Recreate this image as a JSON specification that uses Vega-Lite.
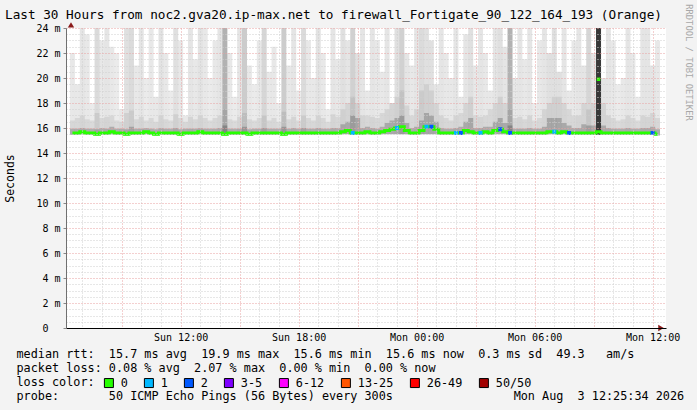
{
 "$schema": "https://vega.github.io/schema/vega-lite/v6.json",
 "width": 600, "height": 300,
 "autosize": {"type": "none"},
 "padding": {"left": 66, "top": 28, "right": 31, "bottom": 82},
 "background": "#f3f3f3",
 "config": {"view": {"stroke": null, "fill": "#ffffff"}, "font": "DejaVu Sans Mono"},
 "title": {"text": "Last 30 Hours from noc2.gva20.ip-max.net to firewall_Fortigate_90_122_164_193 (Orange)", "anchor": "start", "frame": "group", "dx": -61, "dy": 37, "font": "DejaVu Sans Mono", "fontSize": 12.7, "fontWeight": "normal", "color": "#000000", "offset": 9, "baseline": "alphabetic"},
 "data": {"values": [
{"t":"2026-08-02T06:30","m":15.6,"l":15.45,"d":15.95,"k":16.6,"h":22,"o":0.09,"s":"0"},
{"t":"2026-08-02T06:45","m":15.6,"l":15.45,"d":15.95,"k":16.8,"h":19.5,"o":0.09,"s":"0"},
{"t":"2026-08-02T07:00","m":15.7,"l":15.5,"d":16.0,"k":17.0,"h":24,"o":0.1,"s":"0"},
{"t":"2026-08-02T07:15","m":15.6,"l":15.45,"d":15.95,"k":16.7,"h":23.5,"o":0.09,"s":"0"},
{"t":"2026-08-02T07:30","m":15.6,"l":15.45,"d":15.95,"k":16.6,"h":18,"o":0.08,"s":"0"},
{"t":"2026-08-02T07:45","m":15.5,"l":15.4,"d":15.9,"k":17.2,"h":24,"o":0.14,"s":"0"},
{"t":"2026-08-02T08:00","m":15.6,"l":15.45,"d":16.0,"k":16.8,"h":23,"o":0.09,"s":"0"},
{"t":"2026-08-02T08:15","m":15.6,"l":15.45,"d":15.95,"k":16.9,"h":24,"o":0.1,"s":"0"},
{"t":"2026-08-02T08:30","m":15.7,"l":15.5,"d":16.1,"k":17.0,"h":22.5,"o":0.09,"s":"0"},
{"t":"2026-08-02T08:45","m":15.6,"l":15.45,"d":15.95,"k":16.6,"h":22,"o":0.08,"s":"0"},
{"t":"2026-08-02T09:00","m":15.6,"l":15.45,"d":15.95,"k":16.5,"h":17.5,"o":0.09,"s":"0"},
{"t":"2026-08-02T09:15","m":15.5,"l":15.4,"d":15.9,"k":17.2,"h":24,"o":0.12,"s":"0"},
{"t":"2026-08-02T09:30","m":15.6,"l":15.45,"d":16.1,"k":17.4,"h":24,"o":0.14,"s":"0"},
{"t":"2026-08-02T09:45","m":15.6,"l":15.45,"d":15.95,"k":16.7,"h":21,"o":0.09,"s":"0"},
{"t":"2026-08-02T10:00","m":15.6,"l":15.45,"d":15.95,"k":16.9,"h":24,"o":0.1,"s":"0"},
{"t":"2026-08-02T10:15","m":15.7,"l":15.5,"d":16.0,"k":16.6,"h":20,"o":0.08,"s":"0"},
{"t":"2026-08-02T10:30","m":15.6,"l":15.45,"d":15.95,"k":16.8,"h":24,"o":0.09,"s":"0"},
{"t":"2026-08-02T10:45","m":15.5,"l":15.4,"d":15.9,"k":16.5,"h":18.5,"o":0.09,"s":"0"},
{"t":"2026-08-02T11:00","m":15.6,"l":15.45,"d":16.0,"k":17.0,"h":24,"o":0.11,"s":"0"},
{"t":"2026-08-02T11:15","m":15.6,"l":15.45,"d":15.95,"k":16.7,"h":22,"o":0.09,"s":"0"},
{"t":"2026-08-02T11:30","m":15.6,"l":15.45,"d":15.95,"k":16.6,"h":19,"o":0.08,"s":"0"},
{"t":"2026-08-02T11:45","m":15.6,"l":15.45,"d":16.0,"k":17.1,"h":24,"o":0.12,"s":"0"},
{"t":"2026-08-02T12:00","m":15.5,"l":15.4,"d":15.9,"k":16.8,"h":23,"o":0.09,"s":"0"},
{"t":"2026-08-02T12:15","m":15.6,"l":15.45,"d":15.95,"k":16.5,"h":17,"o":0.09,"s":"0"},
{"t":"2026-08-02T12:30","m":15.6,"l":15.45,"d":15.95,"k":16.9,"h":24,"o":0.1,"s":"0"},
{"t":"2026-08-02T12:45","m":15.6,"l":15.45,"d":15.95,"k":16.7,"h":21.5,"o":0.09,"s":"0"},
{"t":"2026-08-02T13:00","m":15.7,"l":15.5,"d":16.0,"k":17.0,"h":24,"o":0.11,"s":"0"},
{"t":"2026-08-02T13:15","m":15.6,"l":15.45,"d":15.95,"k":16.8,"h":24,"o":0.09,"s":"0"},
{"t":"2026-08-02T13:30","m":15.6,"l":15.45,"d":15.95,"k":16.6,"h":20,"o":0.08,"s":"0"},
{"t":"2026-08-02T13:45","m":15.6,"l":15.45,"d":15.95,"k":16.8,"h":23,"o":0.09,"s":"0"},
{"t":"2026-08-02T14:00","m":15.6,"l":15.45,"d":16.0,"k":17.0,"h":24,"o":0.1,"s":"0"},
{"t":"2026-08-02T14:15","m":15.5,"l":15.4,"d":16.2,"k":17.5,"h":24,"o":0.3,"s":"0"},
{"t":"2026-08-02T14:30","m":15.6,"l":15.45,"d":15.95,"k":16.7,"h":22,"o":0.09,"s":"0"},
{"t":"2026-08-02T14:45","m":15.6,"l":15.45,"d":15.95,"k":16.6,"h":18.5,"o":0.08,"s":"0"},
{"t":"2026-08-02T15:00","m":15.6,"l":15.45,"d":15.95,"k":16.9,"h":24,"o":0.1,"s":"0"},
{"t":"2026-08-02T15:15","m":15.6,"l":15.45,"d":16.1,"k":17.2,"h":24,"o":0.2,"s":"0"},
{"t":"2026-08-02T15:30","m":15.5,"l":15.4,"d":15.9,"k":16.7,"h":21,"o":0.09,"s":"0"},
{"t":"2026-08-02T15:45","m":15.6,"l":15.45,"d":15.95,"k":16.6,"h":19.5,"o":0.08,"s":"0"},
{"t":"2026-08-02T16:00","m":15.6,"l":15.45,"d":15.95,"k":16.8,"h":23,"o":0.09,"s":"0"},
{"t":"2026-08-02T16:15","m":15.6,"l":15.45,"d":16.0,"k":17.0,"h":24,"o":0.16,"s":"0"},
{"t":"2026-08-02T16:30","m":15.6,"l":15.45,"d":15.95,"k":16.6,"h":20.5,"o":0.09,"s":"0"},
{"t":"2026-08-02T16:45","m":15.6,"l":15.45,"d":15.95,"k":16.8,"h":22.5,"o":0.09,"s":"0"},
{"t":"2026-08-02T17:00","m":15.6,"l":15.45,"d":15.95,"k":16.5,"h":18,"o":0.08,"s":"0"},
{"t":"2026-08-02T17:15","m":15.5,"l":15.4,"d":16.1,"k":17.3,"h":24,"o":0.2,"s":"0"},
{"t":"2026-08-02T17:30","m":15.6,"l":15.45,"d":15.95,"k":16.7,"h":21,"o":0.09,"s":"0"},
{"t":"2026-08-02T17:45","m":15.6,"l":15.45,"d":16.0,"k":16.9,"h":24,"o":0.1,"s":"0"},
{"t":"2026-08-02T18:00","m":15.6,"l":15.45,"d":15.95,"k":16.6,"h":19,"o":0.08,"s":"0"},
{"t":"2026-08-02T18:15","m":15.6,"l":15.45,"d":16.0,"k":17.0,"h":24,"o":0.14,"s":"0"},
{"t":"2026-08-02T18:30","m":15.6,"l":15.45,"d":15.95,"k":16.8,"h":23,"o":0.09,"s":"0"},
{"t":"2026-08-02T18:45","m":15.6,"l":15.45,"d":15.95,"k":16.6,"h":20,"o":0.09,"s":"0"},
{"t":"2026-08-02T19:00","m":15.6,"l":15.45,"d":16.0,"k":17.0,"h":24,"o":0.11,"s":"0"},
{"t":"2026-08-02T19:15","m":15.6,"l":15.45,"d":15.95,"k":16.8,"h":22,"o":0.09,"s":"0"},
{"t":"2026-08-02T19:30","m":15.6,"l":15.45,"d":15.95,"k":16.5,"h":17.5,"o":0.08,"s":"0"},
{"t":"2026-08-02T19:45","m":15.6,"l":15.45,"d":16.0,"k":17.1,"h":24,"o":0.1,"s":"0"},
{"t":"2026-08-02T20:00","m":15.6,"l":15.45,"d":16.0,"k":16.9,"h":21.5,"o":0.09,"s":"0"},
{"t":"2026-08-02T20:15","m":15.7,"l":15.5,"d":16.3,"k":17.5,"h":24,"o":0.12,"s":"0"},
{"t":"2026-08-02T20:30","m":15.8,"l":15.5,"d":16.5,"k":18.0,"h":23,"o":0.1,"s":"0"},
{"t":"2026-08-02T20:45","m":15.6,"l":15.45,"d":17.0,"k":18.5,"h":24,"o":0.18,"s":"1"},
{"t":"2026-08-02T21:00","m":15.6,"l":15.45,"d":16.8,"k":18.0,"h":22,"o":0.12,"s":"0"},
{"t":"2026-08-02T21:15","m":15.6,"l":15.45,"d":16.0,"k":17.0,"h":24,"o":0.1,"s":"0"},
{"t":"2026-08-02T21:30","m":15.7,"l":15.5,"d":16.1,"k":17.0,"h":19,"o":0.09,"s":"0"},
{"t":"2026-08-02T21:45","m":15.6,"l":15.45,"d":16.0,"k":16.9,"h":24,"o":0.1,"s":"0"},
{"t":"2026-08-02T22:00","m":15.6,"l":15.45,"d":15.95,"k":16.8,"h":23,"o":0.09,"s":"0"},
{"t":"2026-08-02T22:15","m":15.7,"l":15.5,"d":16.1,"k":17.2,"h":20.5,"o":0.09,"s":"0"},
{"t":"2026-08-02T22:30","m":15.8,"l":15.5,"d":16.4,"k":17.5,"h":24,"o":0.1,"s":"0"},
{"t":"2026-08-02T22:45","m":15.9,"l":15.5,"d":16.6,"k":18.0,"h":18,"o":0.1,"s":"0"},
{"t":"2026-08-02T23:00","m":16.0,"l":15.5,"d":16.8,"k":18.5,"h":24,"o":0.12,"s":"1"},
{"t":"2026-08-02T23:15","m":16.1,"l":15.5,"d":17.0,"k":19.0,"h":24,"o":0.18,"s":"0"},
{"t":"2026-08-02T23:30","m":15.8,"l":15.5,"d":16.4,"k":17.8,"h":22,"o":0.1,"s":"0"},
{"t":"2026-08-02T23:45","m":15.6,"l":15.45,"d":16.0,"k":17.0,"h":21,"o":0.09,"s":"0"},
{"t":"2026-08-03T00:00","m":15.6,"l":15.45,"d":16.1,"k":17.5,"h":24,"o":0.1,"s":"0"},
{"t":"2026-08-03T00:15","m":15.8,"l":15.5,"d":16.6,"k":19.0,"h":24,"o":0.14,"s":"0"},
{"t":"2026-08-03T00:30","m":16.1,"l":15.5,"d":17.2,"k":19.5,"h":24,"o":0.12,"s":"1"},
{"t":"2026-08-03T00:45","m":16.1,"l":15.5,"d":17.0,"k":19.0,"h":23,"o":0.12,"s":"2"},
{"t":"2026-08-03T01:00","m":15.9,"l":15.5,"d":16.5,"k":18.0,"h":19.5,"o":0.1,"s":"0"},
{"t":"2026-08-03T01:15","m":15.6,"l":15.45,"d":16.0,"k":17.0,"h":24,"o":0.1,"s":"0"},
{"t":"2026-08-03T01:30","m":15.6,"l":15.45,"d":15.95,"k":16.8,"h":22,"o":0.09,"s":"0"},
{"t":"2026-08-03T01:45","m":15.6,"l":15.45,"d":15.95,"k":16.6,"h":20,"o":0.09,"s":"0"},
{"t":"2026-08-03T02:00","m":15.6,"l":15.45,"d":16.0,"k":17.0,"h":24,"o":0.1,"s":"1"},
{"t":"2026-08-03T02:15","m":15.6,"l":15.45,"d":16.1,"k":17.2,"h":18.5,"o":0.09,"s":"2"},
{"t":"2026-08-03T02:30","m":15.8,"l":15.5,"d":16.5,"k":18.0,"h":23.5,"o":0.1,"s":"0"},
{"t":"2026-08-03T02:45","m":15.7,"l":15.5,"d":16.8,"k":18.5,"h":24,"o":0.12,"s":"0"},
{"t":"2026-08-03T03:00","m":15.6,"l":15.45,"d":16.0,"k":17.0,"h":21,"o":0.09,"s":"0"},
{"t":"2026-08-03T03:15","m":15.6,"l":15.45,"d":16.0,"k":16.9,"h":24,"o":0.1,"s":"1"},
{"t":"2026-08-03T03:30","m":15.7,"l":15.5,"d":16.1,"k":17.0,"h":22,"o":0.09,"s":"0"},
{"t":"2026-08-03T03:45","m":15.6,"l":15.45,"d":16.1,"k":17.5,"h":19,"o":0.09,"s":"0"},
{"t":"2026-08-03T04:00","m":15.8,"l":15.5,"d":16.5,"k":18.0,"h":24,"o":0.1,"s":"0"},
{"t":"2026-08-03T04:15","m":15.9,"l":15.5,"d":16.8,"k":18.5,"h":24,"o":0.12,"s":"2"},
{"t":"2026-08-03T04:30","m":15.7,"l":15.5,"d":16.4,"k":18.0,"h":22.5,"o":0.1,"s":"0"},
{"t":"2026-08-03T04:45","m":15.6,"l":15.45,"d":16.2,"k":17.5,"h":24,"o":0.3,"s":"2"},
{"t":"2026-08-03T05:00","m":15.6,"l":15.45,"d":15.95,"k":16.8,"h":20,"o":0.09,"s":"0"},
{"t":"2026-08-03T05:15","m":15.6,"l":15.45,"d":15.95,"k":16.9,"h":24,"o":0.1,"s":"0"},
{"t":"2026-08-03T05:30","m":15.6,"l":15.45,"d":15.95,"k":16.7,"h":21.5,"o":0.09,"s":"0"},
{"t":"2026-08-03T05:45","m":15.6,"l":15.45,"d":16.0,"k":17.0,"h":24,"o":0.1,"s":"0"},
{"t":"2026-08-03T06:00","m":15.6,"l":15.45,"d":15.95,"k":16.6,"h":18,"o":0.08,"s":"0"},
{"t":"2026-08-03T06:15","m":15.6,"l":15.45,"d":15.95,"k":16.8,"h":23,"o":0.09,"s":"0"},
{"t":"2026-08-03T06:30","m":15.6,"l":15.45,"d":16.1,"k":17.5,"h":24,"o":0.1,"s":"0"},
{"t":"2026-08-03T06:45","m":15.7,"l":15.5,"d":16.8,"k":18.0,"h":22,"o":0.12,"s":"0"},
{"t":"2026-08-03T07:00","m":15.7,"l":15.5,"d":16.8,"k":18.5,"h":24,"o":0.12,"s":"1"},
{"t":"2026-08-03T07:15","m":15.6,"l":15.45,"d":16.8,"k":18.5,"h":20.5,"o":0.12,"s":"0"},
{"t":"2026-08-03T07:30","m":15.7,"l":15.5,"d":16.4,"k":18.0,"h":24,"o":0.1,"s":"0"},
{"t":"2026-08-03T07:45","m":15.6,"l":15.45,"d":16.2,"k":17.5,"h":19,"o":0.09,"s":"2"},
{"t":"2026-08-03T08:00","m":15.6,"l":15.45,"d":16.0,"k":17.0,"h":23,"o":0.09,"s":"0"},
{"t":"2026-08-03T08:15","m":15.6,"l":15.45,"d":16.0,"k":17.0,"h":24,"o":0.1,"s":"0"},
{"t":"2026-08-03T08:30","m":15.6,"l":15.45,"d":16.3,"k":18.0,"h":21,"o":0.1,"s":"0"},
{"t":"2026-08-03T08:45","m":15.6,"l":15.45,"d":16.2,"k":17.5,"h":24,"o":0.16,"s":"0"},
{"t":"2026-08-03T09:00","m":15.6,"l":15.45,"d":16.2,"k":18.0,"h":22,"o":0.1,"s":"0"},
{"t":"2026-08-03T09:15","m":15.7,"l":15.45,"d":24,"k":24,"h":24,"o":0.7,"s":"0"},
{"t":"2026-08-03T09:30","m":15.6,"l":15.45,"d":16.2,"k":18.0,"h":20,"o":0.1,"s":"0"},
{"t":"2026-08-03T09:45","m":15.6,"l":15.45,"d":16.0,"k":17.0,"h":24,"o":0.1,"s":"0"},
{"t":"2026-08-03T10:00","m":15.6,"l":15.45,"d":15.95,"k":16.8,"h":23,"o":0.09,"s":"0"},
{"t":"2026-08-03T10:15","m":15.6,"l":15.45,"d":15.95,"k":16.6,"h":19.5,"o":0.08,"s":"0"},
{"t":"2026-08-03T10:30","m":15.6,"l":15.45,"d":15.95,"k":16.7,"h":20,"o":0.09,"s":"0"},
{"t":"2026-08-03T10:45","m":15.6,"l":15.45,"d":16.0,"k":17.0,"h":24,"o":0.1,"s":"0"},
{"t":"2026-08-03T11:00","m":15.6,"l":15.45,"d":15.95,"k":16.8,"h":22,"o":0.09,"s":"0"},
{"t":"2026-08-03T11:15","m":15.6,"l":15.45,"d":15.95,"k":16.6,"h":18.5,"o":0.08,"s":"0"},
{"t":"2026-08-03T11:30","m":15.6,"l":15.45,"d":16.0,"k":17.0,"h":24,"o":0.1,"s":"0"},
{"t":"2026-08-03T11:45","m":15.6,"l":15.45,"d":16.0,"k":16.9,"h":24,"o":0.1,"s":"0"},
{"t":"2026-08-03T12:00","m":15.6,"l":15.45,"d":16.1,"k":17.2,"h":21,"o":0.1,"s":"2"},
{"t":"2026-08-03T12:15","m":15.5,"l":15.4,"d":15.9,"k":16.8,"h":23,"o":0.09,"s":"0"}
 ]},
 "encoding": {
  "x": {"field": "t", "type": "temporal",
   "scale": {"domain": [{"year": 2026, "month": 8, "date": 2, "hours": 6, "minutes": 25, "seconds": 34}, {"year": 2026, "month": 8, "date": 3, "hours": 12, "minutes": 25, "seconds": 34}]},
   "axis": {"orient": "bottom",
    "values": [{"year":2026,"month":8,"date":2,"hours":7},{"year":2026,"month":8,"date":2,"hours":8},{"year":2026,"month":8,"date":2,"hours":9},{"year":2026,"month":8,"date":2,"hours":10},{"year":2026,"month":8,"date":2,"hours":11},{"year":2026,"month":8,"date":2,"hours":12},{"year":2026,"month":8,"date":2,"hours":13},{"year":2026,"month":8,"date":2,"hours":14},{"year":2026,"month":8,"date":2,"hours":15},{"year":2026,"month":8,"date":2,"hours":16},{"year":2026,"month":8,"date":2,"hours":17},{"year":2026,"month":8,"date":2,"hours":18},{"year":2026,"month":8,"date":2,"hours":19},{"year":2026,"month":8,"date":2,"hours":20},{"year":2026,"month":8,"date":2,"hours":21},{"year":2026,"month":8,"date":2,"hours":22},{"year":2026,"month":8,"date":2,"hours":23},{"year":2026,"month":8,"date":3,"hours":0},{"year":2026,"month":8,"date":3,"hours":1},{"year":2026,"month":8,"date":3,"hours":2},{"year":2026,"month":8,"date":3,"hours":3},{"year":2026,"month":8,"date":3,"hours":4},{"year":2026,"month":8,"date":3,"hours":5},{"year":2026,"month":8,"date":3,"hours":6},{"year":2026,"month":8,"date":3,"hours":7},{"year":2026,"month":8,"date":3,"hours":8},{"year":2026,"month":8,"date":3,"hours":9},{"year":2026,"month":8,"date":3,"hours":10},{"year":2026,"month":8,"date":3,"hours":11},{"year":2026,"month":8,"date":3,"hours":12}],
    "grid": true, "gridColor": {"condition": {"test": "hours(datum.value) % 3 == 0", "value": "#e8a0a0"}, "value": "#cfcfcf"},
    "gridDash": [1, 2], "gridWidth": 1,
    "labelExpr": "hours(datum.value) % 6 == 0 ? timeFormat(datum.value, '%a %H:%M') : ''",
    "labelFont": "DejaVu Sans Mono", "labelFontSize": 10, "labelColor": "#000000", "labelPadding": 4,
    "labelFlush": false, "labelOverlap": false, "labelBound": false,
    "ticks": false, "domainColor": "#000000", "domainWidth": 1,
    "title": ["median rtt:\u00a0\u00a015.7 ms avg\u00a0\u00a019.9 ms max\u00a0\u00a015.6 ms min\u00a0\u00a015.6 ms now\u00a0\u00a00.3 ms sd\u00a0\u00a049.3\u00a0\u00a0\u00a0am/s",
              "packet loss: 0.08 % avg\u00a0\u00a02.07 % max\u00a0\u00a00.00 % min\u00a0\u00a00.00 % now",
              "loss color:",
              "probe:\u00a0\u00a0\u00a0\u00a0\u00a0\u00a0\u00a050 ICMP Echo Pings (56 Bytes) every 300s\u00a0\u00a0\u00a0\u00a0\u00a0\u00a0\u00a0\u00a0\u00a0\u00a0\u00a0\u00a0\u00a0\u00a0\u00a0\u00a0\u00a0Mon Aug\u00a0\u00a03 12:25:34 2026"],
    "titleFont": "DejaVu Sans Mono", "titleFontSize": 11.8, "titleFontWeight": "normal", "titleColor": "#000000",
    "titleAlign": "left", "titleAnchor": "start", "titleX": -50, "titleY": 29, "titleBaseline": "alphabetic", "titleLineHeight": 14,
    "zindex": 1}
  }
 },
 "layer": [
  {"mark": {"type": "bar", "width": 5, "color": "#000000", "clip": true},
   "encoding": {
    "y": {"field": "l", "type": "quantitative", "scale": {"domain": [0, 24], "nice": false},
     "axis": {"orient": "left", "values": [0,0.5,1,1.5,2,2.5,3,3.5,4,4.5,5,5.5,6,6.5,7,7.5,8,8.5,9,9.5,10,10.5,11,11.5,12,12.5,13,13.5,14,14.5,15,15.5,16,16.5,17,17.5,18,18.5,19,19.5,20,20.5,21,21.5,22,22.5,23,23.5,24],
      "grid": true, "gridColor": {"condition": {"test": "datum.value % 2 == 0", "value": "#e8a0a0"}, "value": "#cfcfcf"},
      "gridDash": [1, 2], "gridWidth": 1,
      "labelExpr": "datum.value % 2 == 0 ? (datum.value == 0 ? '0' : datum.value + ' m') : ''",
      "labelFont": "DejaVu Sans Mono", "labelFontSize": 10, "labelColor": "#000000",
      "labelPadding": {"condition": {"test": "datum.value == 0", "value": 15}, "value": 3},
      "labelOverlap": false, "labelBound": false, "labelFlush": false,
      "ticks": true, "tickSize": 3, "tickColor": "#888888", "tickOpacity": {"condition": {"test": "datum.value % 2 == 0", "value": 1}, "value": 0},
      "domainColor": "#707070",
      "title": "Seconds", "titleFont": "DejaVu Sans Mono", "titleFontSize": 11.5, "titleFontWeight": "normal", "titleColor": "#000000",
      "titleX": -56, "titleY": 150, "titleAngle": 270, "titleAlign": "center", "titleBaseline": "middle",
      "zindex": 1}},
    "y2": {"field": "h"},
    "opacity": {"field": "o", "type": "quantitative", "scale": null, "legend": null}
   }},
  {"mark": {"type": "bar", "width": 5, "color": "#000000", "opacity": 0.07, "clip": true},
   "encoding": {"y": {"field": "l", "type": "quantitative", "scale": {"domain": [0, 24], "nice": false}, "axis": null}, "y2": {"field": "k"}}},
  {"mark": {"type": "bar", "width": 5, "color": "#000000", "opacity": 0.2, "clip": true},
   "encoding": {"y": {"field": "l", "type": "quantitative", "scale": {"domain": [0, 24], "nice": false}, "axis": null}, "y2": {"field": "d"}}},
  {"mark": {"type": "line", "color": "#26ff00", "strokeWidth": 3, "interpolate": "step", "clip": true},
   "encoding": {"y": {"field": "m", "type": "quantitative", "scale": {"domain": [0, 24], "nice": false}, "axis": null}}},
  {"transform": [{"filter": "datum.s != '0'"}],
   "mark": {"type": "square", "size": 16, "filled": true, "opacity": 1},
   "encoding": {"y": {"field": "m", "type": "quantitative", "scale": {"domain": [0, 24], "nice": false}, "axis": null},
    "color": {"field": "s", "type": "nominal",
     "scale": {"domain": ["0", "1", "2", "3-5", "6-12", "13-25", "26-49", "50/50"], "range": ["#26ff00", "#00b8ff", "#0059ff", "#7e00ff", "#ff00ff", "#ff5500", "#ff0000", "#a10000"]},
     "legend": {"orient": "none", "legendX": 37, "legendY": 349, "direction": "horizontal", "columns": 8, "gridAlign": "each", "title": null,
      "symbolType": "square", "symbolSize": 81, "symbolStrokeColor": "#000000", "symbolStrokeWidth": 1, "symbolOpacity": 1,
      "labelFont": "DejaVu Sans Mono", "labelFontSize": 11.8, "labelColor": "#000000", "labelOffset": 6, "columnPadding": 14, "padding": 0}}}},
  {"data": {"values": [{"t": "2026-08-02T06:25:34", "m": 24.25}]},
   "mark": {"type": "point", "shape": "triangle-up", "size": 40, "filled": true, "color": "#8b1a1a", "opacity": 1, "clip": false},
   "encoding": {"y": {"field": "m", "type": "quantitative", "scale": {"domain": [0, 24], "nice": false}, "axis": null}}},
  {"data": {"values": [{"t": "2026-08-03T12:25:34", "m": 0}]},
   "mark": {"type": "point", "shape": "triangle-right", "size": 40, "filled": true, "color": "#8b1a1a", "opacity": 1, "clip": false},
   "encoding": {"y": {"field": "m", "type": "quantitative", "scale": {"domain": [0, 24], "nice": false}, "axis": null}}},
  {"data": {"values": [{"t": "2026-08-03T09:15", "m": 19.9}]},
   "mark": {"type": "square", "size": 12, "filled": true, "color": "#26ff00", "opacity": 1},
   "encoding": {"y": {"field": "m", "type": "quantitative", "scale": {"domain": [0, 24], "nice": false},
    "axis": {"orient": "right", "labels": false, "ticks": false, "domain": false, "grid": false,
     "title": "RRDTOOL / TOBI OETIKER", "titleFont": "DejaVu Sans Mono", "titleFontSize": 8.8, "titleFontWeight": "normal", "titleColor": "#a8a8a8",
     "titleAngle": 90, "titleX": 22, "titleY": 34, "titleAlign": "center", "titleBaseline": "middle"}}}}
 ],
 "resolve": {"axis": {"y": "independent"}}
}
